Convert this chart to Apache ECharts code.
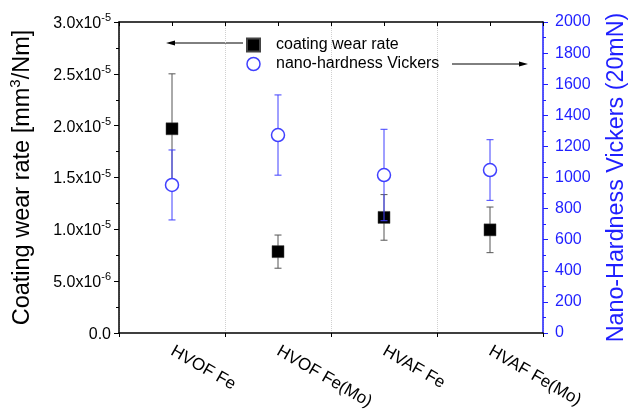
<!DOCTYPE html>
<html><head><meta charset="utf-8">
<script src="https://cdn.jsdelivr.net/npm/echarts@6/dist/echarts.min.js"></script>
<style>html,body{margin:0;padding:0;background:#fff}#c{width:628px;height:409px}</style>
</head><body><div id="c"></div>
<script>
const categories = ['HVOF Fe', 'HVOF Fe(Mo)', 'HVAF Fe', 'HVAF Fe(Mo)'];
const wearRate = [1.97e-5, 7.85e-6, 1.115e-5, 9.95e-6];
const wearErr = [5.3e-6, 1.6e-6, 2.2e-6, 2.2e-6];
const hardness = [952, 1273, 1016, 1048];
const hardnessErr = [225, 258, 294, 195];

const FONT = 'Liberation Sans, Arial, sans-serif';
const BLUE_AXIS = '#1f1fff';
const BLUE = '#4040ff';

function errData(vals, errs) {
  return vals.map((v, i) => [i, v - errs[i], v + errs[i]]);
}
function errRender(color) {
  return function (params, api) {
    const x = api.value(0);
    const lo = api.coord([x, api.value(1)]);
    const hi = api.coord([x, api.value(2)]);
    const w = 3.5;
    const st = { stroke: color, lineWidth: 1 };
    return { type: 'group', children: [
      { type: 'line', shape: { x1: hi[0], y1: hi[1], x2: lo[0], y2: lo[1] }, style: st },
      { type: 'line', shape: { x1: hi[0] - w, y1: hi[1], x2: hi[0] + w, y2: hi[1] }, style: st },
      { type: 'line', shape: { x1: lo[0] - w, y1: lo[1], x2: lo[0] + w, y2: lo[1] }, style: st }
    ]};
  };
}
function leftFmt(v) {
  if (v === 0) return '{n|0.0}';
  const e = Math.floor(Math.log10(v) + 1e-9);
  const m = v / Math.pow(10, e);
  return '{n|' + m.toFixed(1) + 'x10}{s|' + e + '}';
}

const chart = echarts.init(document.getElementById('c'));
chart.setOption({
  animation: false,
  backgroundColor: '#fff',
  textStyle: { fontFamily: FONT },
  grid: { left: 119, right: 85, top: 22, bottom: 76, containLabel: false, outerBoundsMode: 'none' },
  legend: {
    orient: 'vertical', left: 241, top: 32, itemWidth: 13, itemHeight: 13, itemGap: 3,
    textStyle: { fontSize: 16, color: '#000', fontFamily: FONT, padding: [0, 0, 0, 11] },
    data: [
      { name: 'coating wear rate', icon: 'rect', itemStyle: { color: '#000', opacity: 1 } },
      { name: 'nano-hardness Vickers', icon: 'circle', itemStyle: { color: '#fff', borderColor: BLUE, borderWidth: 1.5, opacity: 1 } }
    ]
  },
  xAxis: [
    {
      type: 'category', data: categories, position: 'bottom', boundaryGap: true,
      axisLine: { lineStyle: { color: '#000', width: 1.5 } },
      axisTick: { show: true, inside: false, length: 4, lineStyle: { color: '#000' } },
      axisLabel: { rotate: -30, fontSize: 17, color: '#000', margin: 17, fontFamily: FONT },
      splitLine: { show: true, lineStyle: { color: '#d0d0d0', type: 'dotted', width: 1 } }
    },
    {
      type: 'value', position: 'top', min: 0, max: 8, interval: 1,
      axisLine: { show: true, onZero: false, lineStyle: { color: '#000', width: 1.5 } },
      axisTick: { show: true, inside: true, length: 4, lineStyle: { color: '#000' } },
      axisLabel: { show: false }, splitLine: { show: false }
    }
  ],
  yAxis: [
    {
      type: 'value', min: 0, max: 3e-5, interval: 5e-6, position: 'left',
      name: '{a|Coating wear rate [mm}{b|3}{a|/Nm]}', nameLocation: 'middle', nameGap: 84, nameRotate: 90,
      nameTextStyle: { rich: {
        a: { fontSize: 23.5, color: '#000', fontFamily: FONT, lineHeight: 27, verticalAlign: 'bottom' },
        b: { fontSize: 15, color: '#000', fontFamily: FONT, lineHeight: 15, verticalAlign: 'top' }
      } },
      axisLine: { show: true, lineStyle: { color: '#000', width: 1.5 } },
      axisTick: { show: true, inside: false, length: 5, lineStyle: { color: '#000' } },
      minorTick: { show: true, splitNumber: 2, length: 3, lineStyle: { color: '#000' } },
      axisLabel: { formatter: leftFmt, margin: 8, rich: {
        n: { fontSize: 16, color: '#000', fontFamily: FONT, lineHeight: 19, verticalAlign: 'bottom' },
        s: { fontSize: 11, color: '#000', fontFamily: FONT, lineHeight: 11, verticalAlign: 'top' }
      } },
      splitLine: { show: false }
    },
    {
      type: 'value', min: 0, max: 2000, interval: 200, position: 'right',
      name: 'Nano-Hardness Vickers (20mN)', nameLocation: 'middle', nameGap: 62, nameRotate: 90,
      nameTextStyle: { fontSize: 23.3, color: BLUE_AXIS, fontFamily: FONT },
      axisLine: { show: true, lineStyle: { color: BLUE_AXIS, width: 1.5 } },
      axisTick: { show: true, inside: false, length: 5, lineStyle: { color: BLUE_AXIS } },
      minorTick: { show: true, splitNumber: 2, length: 3, lineStyle: { color: BLUE_AXIS } },
      axisLabel: { fontSize: 16, color: BLUE_AXIS, margin: 12, fontFamily: FONT, formatter: v => String(v) },
      splitLine: { show: false }
    }
  ],
  series: [
    { type: 'custom', name: 'wearErr', xAxisIndex: 0, yAxisIndex: 0, z: 2,
      renderItem: errRender('#555'), data: errData(wearRate, wearErr), encode: { x: 0, y: [1, 2] } },
    { type: 'scatter', name: 'coating wear rate', xAxisIndex: 0, yAxisIndex: 0, z: 3,
      symbol: 'rect', symbolSize: 12, itemStyle: { color: '#000', opacity: 1, borderColor: '#444', borderWidth: 0.5 },
      data: wearRate.map((v, i) => [i, v]) },
    { type: 'custom', name: 'hardErr', xAxisIndex: 0, yAxisIndex: 1, z: 4,
      renderItem: errRender(BLUE), data: errData(hardness, hardnessErr), encode: { x: 0, y: [1, 2] } },
    { type: 'scatter', name: 'nano-hardness Vickers', xAxisIndex: 0, yAxisIndex: 1, z: 5,
      symbol: 'circle', symbolSize: 13, itemStyle: { color: '#fff', opacity: 1, borderColor: BLUE, borderWidth: 1.5 },
      data: hardness.map((v, i) => [i, v]) }
  ],
  graphic: [
    { type: 'line', shape: { x1: 243, y1: 43, x2: 172, y2: 43 }, style: { stroke: '#000', lineWidth: 1 } },
    { type: 'polygon', shape: { points: [[166, 43], [175, 40.5], [175, 45.5]] }, style: { fill: '#000' } },
    { type: 'line', shape: { x1: 452, y1: 64, x2: 522, y2: 64 }, style: { stroke: '#000', lineWidth: 1 } },
    { type: 'polygon', shape: { points: [[528, 64], [519, 61.5], [519, 66.5]] }, style: { fill: '#000' } }
  ]
});
</script></body></html>
